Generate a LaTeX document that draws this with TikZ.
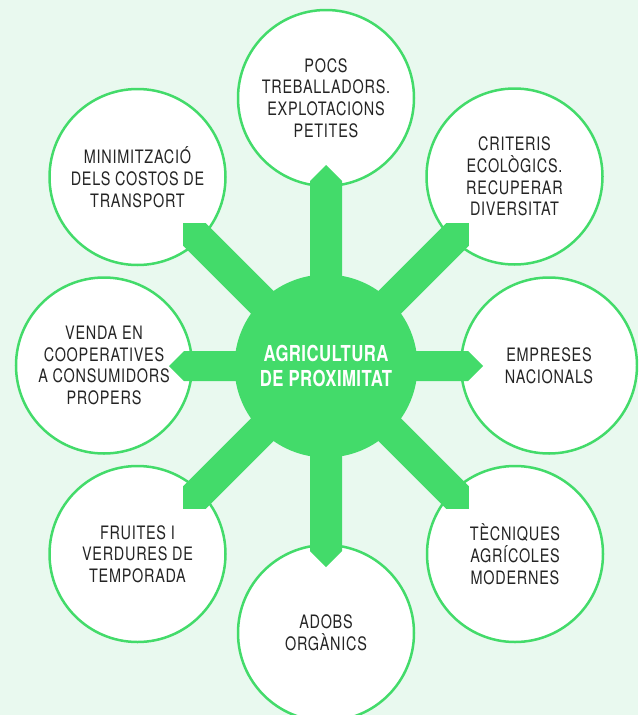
\documentclass[tikz,border=0pt]{standalone}
\usepackage{fontspec}
\setmainfont{TeX Gyre Heros}[FakeStretch=0.78, LetterSpace=4, BoldFeatures={FakeStretch=0.76, LetterSpace=2}]
\definecolor{leaf}{HTML}{43DB6A}
\definecolor{bgmint}{HTML}{E9F9EF}
\definecolor{ink}{HTML}{242424}
\begin{document}
\begin{tikzpicture}[x=1pt,y=-1pt,
  leafnode/.style={circle, draw=leaf, line width=2.5pt, fill=white, minimum size=176pt, inner sep=0pt,
    align=center, text=ink, font=\fontsize{18.5}{21.7}\selectfont},
  hubnode/.style={circle, fill=leaf, minimum size=183pt, inner sep=0pt,
    align=center, text=white, font=\fontsize{22}{25}\selectfont\bfseries},
  spoke/.style={fill=leaf}]
\useasboundingbox (0,0) rectangle (638,715);
\clip (0,0) rectangle (638,715);
\fill[bgmint] (0,0) rectangle (638,715);

\coordinate (c) at (326,366);
\node[leafnode] (n1) at (326,98) {POCS\\TREBALLADORS.\\EXPLOTACIONS\\PETITES};
\node[leafnode] (n2) at (514.5,176.5) {CRITERIS\\ECOLÒGICS.\\RECUPERAR\\DIVERSITAT};
\node[leafnode] (n3) at (549,365.5) {EMPRESES\\NACIONALS};
\node[leafnode] (n4) at (515,554) {TÈCNIQUES\\AGRÍCOLES\\MODERNES};
\node[leafnode] (n5) at (326,633) {ADOBS\\ORGÀNICS};
\node[leafnode] (n6) at (137.5,554) {FRUITES I\\VERDURES DE\\TEMPORADA};
\node[leafnode] (n7) at (104,365.5) {VENDA EN\\COOPERATIVES\\A CONSUMIDORS\\PROPERS};
\node[leafnode] (n8) at (137.5,177) {MINIMITZACIÓ\\DELS COSTOS DE\\TRANSPORT};

\foreach \ang/\len/\hw in {90/201/16, 45/202/16, 0/157/15, -45/202/16, -90/201/16, -135/202/16, 180/157/15, 135/202/16}{
  \begin{scope}[shift={(c)}, rotate=\ang]
    \fill[spoke] (0,-\hw) -- (\len-\hw,-\hw) -- (\len,0) -- (\len-\hw,\hw) -- (0,\hw) -- cycle;
  \end{scope}
}

\node[hubnode] (hub) at (c) {AGRICULTURA\\DE PROXIMITAT};
\end{tikzpicture}
\end{document}
